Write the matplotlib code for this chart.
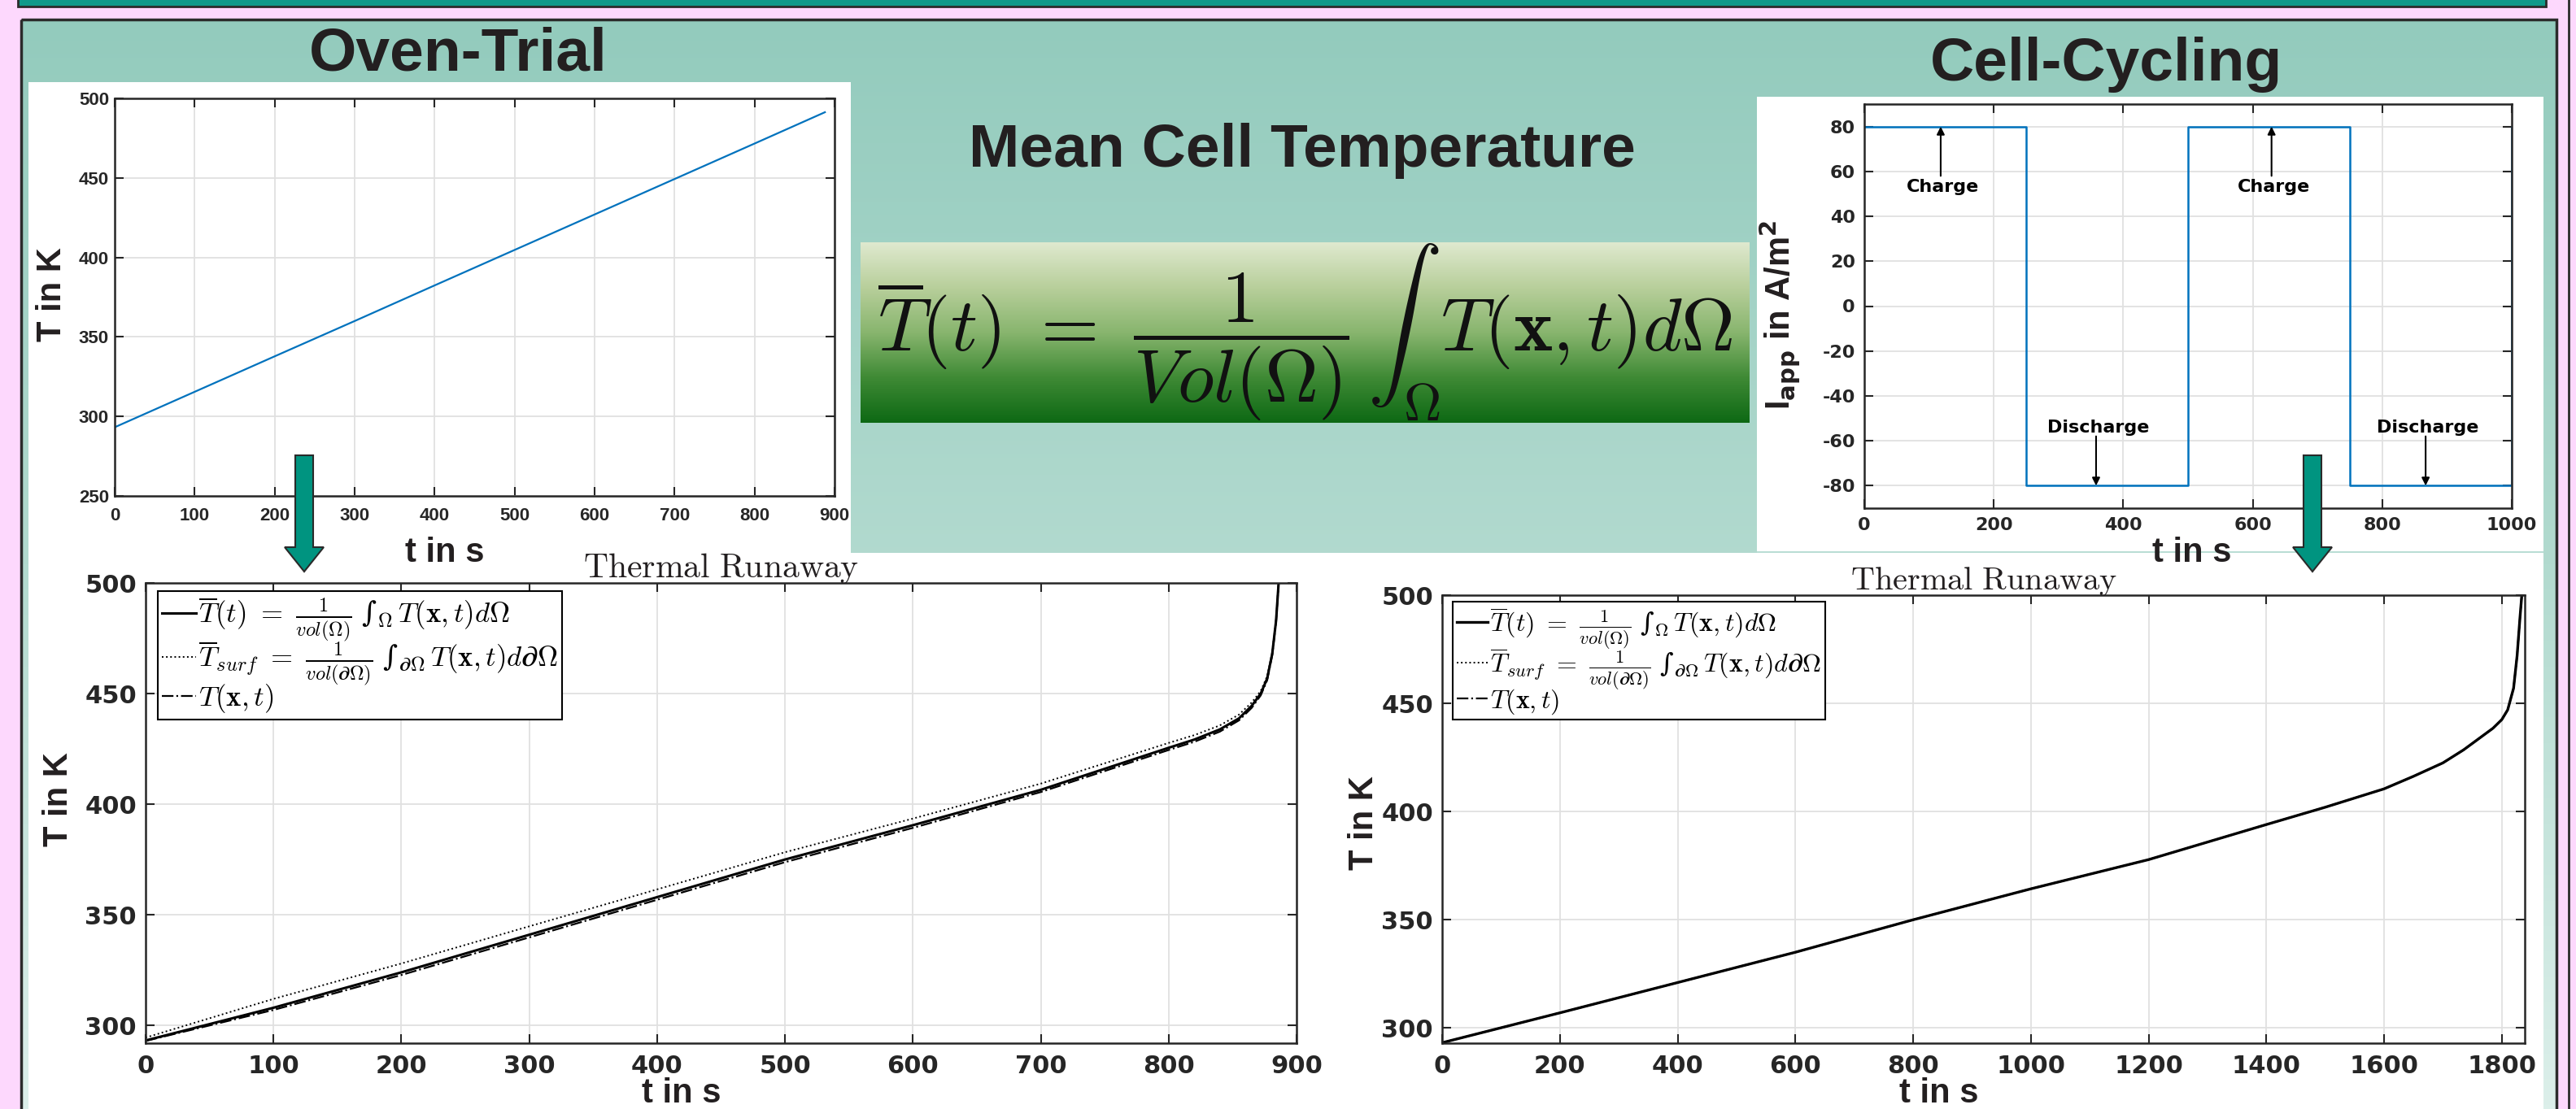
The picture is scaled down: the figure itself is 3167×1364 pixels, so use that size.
import numpy as np
import matplotlib
matplotlib.use('Agg')
import matplotlib.pyplot as plt
from matplotlib.patches import Rectangle, FancyArrow
from matplotlib.colors import LinearSegmentedColormap

# Oven trial: prescribed oven temperature
oven_t = [0, 100, 200, 300, 400, 500, 600, 700, 800, 888]
oven_T = [293.2, 315.5, 337.8, 360.0, 382.4, 404.7, 427.0, 449.3, 471.6, 491.3]

# Cell cycling: applied current density
cycle_t = [0, 250, 250, 500, 500, 750, 750, 1000, 1000]
cycle_I = [80, 80, -80, -80, 80, 80, -80, -80, 80]
note_text = ['Charge', 'Discharge', 'Charge', 'Discharge']
note_t = [118, 358, 629, 867]
note_I = [80, -80, 80, -80]

# Thermal runaway during the oven trial
oven_run_t = [0, 100, 200, 300, 400, 500, 600, 700, 800, 820, 840, 855, 865, 872, 877, 881, 884, 886]
oven_run_mean = [293.2, 308.0, 324.0, 341.0, 358.0, 375.0, 390.5, 406.5, 425.5, 429.2, 433.8,
                 438.8, 444.5, 450.0, 456.8, 468.0, 483.0, 500.0]
oven_run_surf = [294.5, 312.0, 328.0, 344.8, 361.5, 378.3, 393.5, 409.3, 427.7, 431.2, 435.6,
                 440.5, 446.0, 451.2, 457.8, 468.6, 483.4, 500.0]
oven_run_point = [293.0, 307.0, 322.8, 339.8, 356.8, 373.8, 389.3, 405.5, 424.5, 428.2, 432.8,
                  437.9, 443.6, 449.2, 456.0, 467.4, 482.6, 500.0]

# Thermal runaway during cell cycling (all three curves coincide)
cyc_run_t = [0, 200, 400, 600, 800, 1000, 1200, 1400, 1500, 1600, 1650, 1700, 1735, 1765,
             1785, 1800, 1810, 1820, 1826, 1831, 1834]
cyc_run_T = [293.2, 307.0, 321.0, 335.0, 350.0, 364.3, 377.8, 394.0, 402.0, 410.5, 416.3,
             422.5, 428.5, 434.5, 438.5, 442.5, 447.0, 457.0, 472.0, 490.0, 500.0]

# the integral signs are plain text so that they stay text-sized
legend_labels = [
    r'$\overline{T}(t)\ =\ \frac{1}{vol(\Omega)}\ $∫$_{\Omega}\,T(\mathbf{x},t)d\Omega$',
    r'$\overline{T}_{surf}\ =\ \frac{1}{vol(\partial\Omega)}\ $∫$_{\partial\Omega}\,T(\mathbf{x},t)d\partial\Omega$',
    r'$T(\mathbf{x},t)$',
]

# ---------------- figure ----------------
plt.rcParams['font.family'] = 'DejaVu Sans'
plt.rcParams['font.weight'] = 'bold'
plt.rcParams['mathtext.fontset'] = 'cm'
plt.rcParams['axes.unicode_minus'] = False

W, H = 3167, 1364
INK = '#231f20'
ARIAL = 'Liberation Sans'

fig = plt.figure(figsize=(W / 100, H / 100), dpi=100)
fig.patch.set_facecolor('#fdd8fd')


def rect(x0, y0, x1, y1):
    return [x0 / W, 1 - y1 / H, (x1 - x0) / W, (y1 - y0) / H]


def put(x, y, s, **kw):
    fig.text(x / W, 1 - y / H, s, ha='center', va='center', color=INK, **kw)


# background: frame, teal panel, white image boxes
bg = fig.add_axes([0, 0, 1, 1], zorder=-5)
panel = LinearSegmentedColormap.from_list('panel', ['#93cbbd', '#b2dacf', '#dcefea'])
bg.imshow(np.linspace(0, 1, 256)[:, None], cmap=panel, aspect='auto',
          extent=(26, 3143, 1364, 24))
bg.add_patch(Rectangle((22, -4), 3108, 12, fc='#0f9a8a', ec='#2b2b2b', lw=2))
bg.add_patch(Rectangle((26, 24), 3117, 1345, fc='none', ec='#2b2b2b', lw=2.5))
bg.plot([3158, 3158], [0, H], color='#2b2b2b', lw=2)
for x0, y0, x1, y1 in [(35, 101, 1046, 680), (2160, 119, 3127, 678), (35, 680, 3127, 1364)]:
    bg.add_patch(Rectangle((x0, y0), x1 - x0, y1 - y0, fc='white', ec='none'))
bg.add_patch(Rectangle((2160, 678), 967, 2, fc='#b9ddd4', ec='none'))
bg.set_xlim(0, W)
bg.set_ylim(H, 0)
bg.axis('off')

# mean temperature definition
put(1601, 185, 'Mean Cell Temperature', fontsize=54, family=ARIAL)
fax = fig.add_axes(rect(1058, 298, 2151, 520))
green = LinearSegmentedColormap.from_list(
    'green', ['#dfe9cf', '#b8cf9b', '#88b56e', '#3f8a35', '#0d6914'])
fax.imshow(np.linspace(0, 1, 256)[:, None], cmap=green, aspect='auto', extent=(0, 1, 0, 1))
fax.set_xlim(0, 1)
fax.set_ylim(0, 1)
fax.axis('off')
fax.text(0.5, 0.5,
         r'$\overline{T}(t)\ =\ \dfrac{1}{Vol(\Omega)}\,\int_{\Omega} T(\mathbf{x},t)d\Omega$',
         transform=fax.transAxes, ha='center', va='center', fontsize=66, color='#111111')

put(563, 67, 'Oven-Trial', fontsize=54, family=ARIAL)
put(2590, 80, 'Cell-Cycling', fontsize=54, family=ARIAL)


def matlab_axes(ax, xlim, ylim, xticks, yticks, family, size, xpad, ypad):
    ax.set_xlim(xlim)
    ax.set_ylim(ylim)
    ax.set_xticks(xticks)
    ax.set_yticks(yticks)
    ax.grid(True, color='#e0e0e0', lw=1.3)
    ax.set_axisbelow(True)
    ax.tick_params(direction='in', top=True, right=True, length=8, width=1.5,
                   colors='#262626', labelsize=size, labelfontfamily=family)
    ax.tick_params(axis='x', pad=xpad)
    ax.tick_params(axis='y', pad=ypad)
    for sp in ax.spines.values():
        sp.set_color('#262626')
        sp.set_linewidth(1.8)


# oven trial
ax1 = fig.add_axes(rect(141, 121, 1026, 610))
ax1.plot(oven_t, oven_T, color='#0072bd', lw=1.6)
matlab_axes(ax1, (0, 900), (250, 500), range(0, 901, 100), range(250, 501, 50), ARIAL, 16, 10, 5)
put(64, 362, 'T in K', fontsize=30, family=ARIAL, rotation=90)
put(547, 680, 't in s', fontsize=30, family=ARIAL)

# cell cycling
ax2 = fig.add_axes(rect(2292, 128, 3088, 625))
ax2.plot(cycle_t, cycle_I, color='#0072bd', lw=1.8)
matlab_axes(ax2, (0, 1000), (-90, 90), range(0, 1001, 200), range(-80, 81, 20), 'DejaVu Sans', 16, 8, 8)
for s, t, i in zip(note_text, note_t, note_I):
    tail = 58 if i > 0 else -58
    ax2.annotate('', xy=(t, i), xytext=(t, tail),
                 arrowprops=dict(arrowstyle='-|>', color='black', lw=1.5, mutation_scale=14,
                                 shrinkA=0, shrinkB=0))
    ax2.text(t + 3, 53 if i > 0 else -54, s, ha='center', va='center', fontsize=16, color='black')
fig.text(2188 / W, 1 - 387 / H, r'I$_{\mathbf{app}}$ in A/m$^{\mathbf{2}}$', rotation=90,
         ha='center', va='center', fontsize=30, family=ARIAL, color=INK,
         math_fontfamily='dejavusans')
put(2695, 680, 't in s', fontsize=30, family=ARIAL)

# thermal runaway, oven trial
ax3 = fig.add_axes(rect(179, 717, 1594, 1283))
ax3.plot(oven_run_t, oven_run_mean, '-', color='black', lw=2.2, label=legend_labels[0])
ax3.plot(oven_run_t, oven_run_surf, ':', color='black', lw=1.4, label=legend_labels[1])
ax3.plot(oven_run_t, oven_run_point, '-.', color='black', lw=1.6, label=legend_labels[2])
matlab_axes(ax3, (0, 900), (292, 500), range(0, 901, 100), range(300, 501, 50), 'DejaVu Sans', 22, 10, 8)
ax3.set_title(r'$\mathrm{Thermal\ Runaway}$', fontsize=30, pad=5, color=INK)

# thermal runaway, cell cycling
ax4 = fig.add_axes(rect(1773, 732, 3104, 1283))
ax4.plot(cyc_run_t, cyc_run_T, '-', color='black', lw=2.4, label=legend_labels[0])
ax4.plot(cyc_run_t, cyc_run_T, ':', color='black', lw=1.4, label=legend_labels[1])
ax4.plot(cyc_run_t, cyc_run_T, '-.', color='black', lw=1.6, label=legend_labels[2])
matlab_axes(ax4, (0, 1839), (293, 500), range(0, 1801, 200), range(300, 501, 50), 'DejaVu Sans', 22, 10, 8)
ax4.set_title(r'$\mathrm{Thermal\ Runaway}$', fontsize=29, pad=5, color=INK)

for ax, dx, dy, fs in [(ax3, 15, 10, 25), (ax4, 13, 8, 23)]:
    bb = ax.get_position()
    leg = ax.legend(loc='upper left',
                    bbox_to_anchor=(dx / (bb.width * W), 1 - dy / (bb.height * H)),
                    borderaxespad=0, handlelength=1.2, handletextpad=0.1,
                    borderpad=0.15, labelspacing=-0.15, fancybox=False, framealpha=1,
                    edgecolor='black',
                    prop={'family': 'DejaVu Serif', 'weight': 'normal', 'size': fs})
    leg.get_frame().set_linewidth(1.5)

put(72, 983, 'T in K', fontsize=30, family=ARIAL, rotation=90)
put(838, 1345, 't in s', fontsize=30, family=ARIAL)
put(1677, 1012, 'T in K', fontsize=30, family=ARIAL, rotation=90)
put(2384, 1345, 't in s', fontsize=30, family=ARIAL)

# teal arrows pointing from the set-ups to the results
top = fig.add_axes([0, 0, 1, 1], zorder=20)
top.set_xlim(0, W)
top.set_ylim(H, 0)
top.axis('off')
for x in (374, 2843):
    top.add_patch(FancyArrow(x, 560, 0, 143, width=22, head_width=48, head_length=30,
                             length_includes_head=True, fc='#009480', ec='#2a2a2a', lw=1.5))

fig.savefig('out.png', dpi=100, facecolor=fig.get_facecolor())
